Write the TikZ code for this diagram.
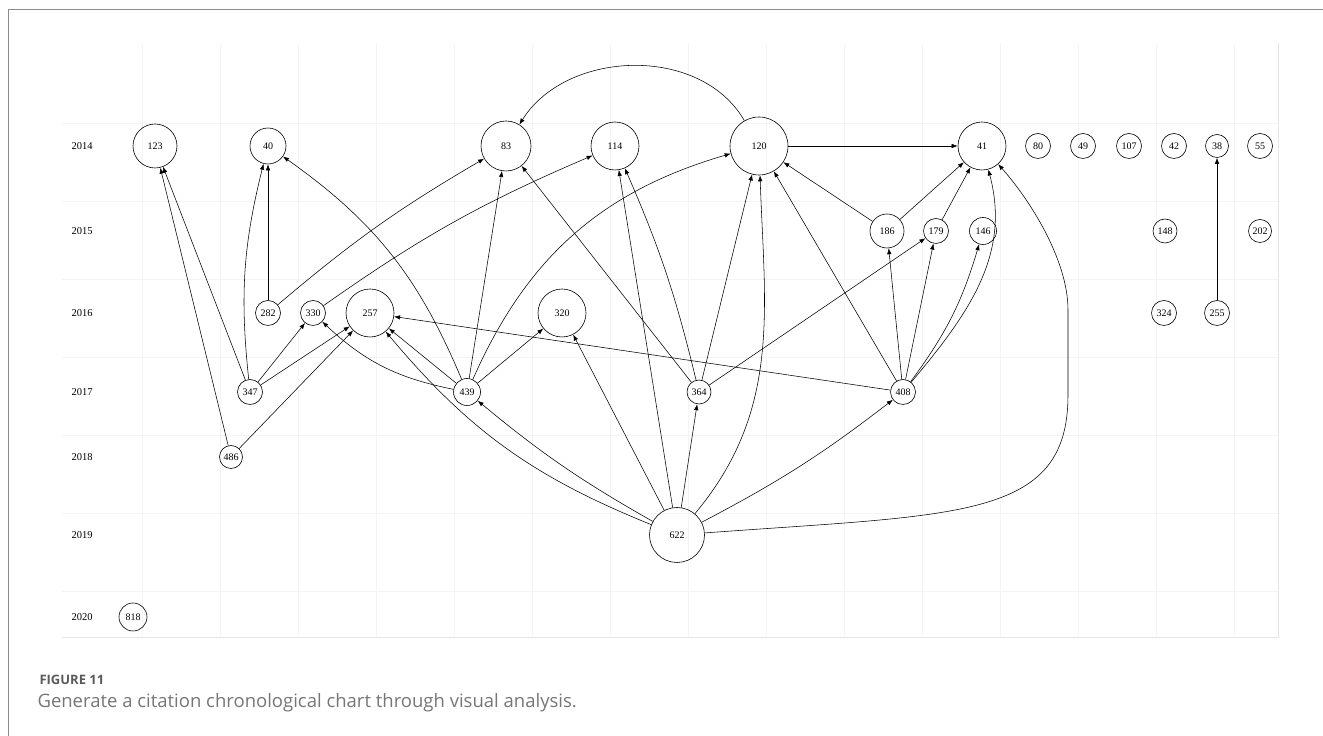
\documentclass[tikz,border=0pt]{standalone}
\usepackage{fontspec}
\setmainfont{Liberation Serif}
\newfontfamily\captfont{Open Sans}
\usepackage{xcolor}
\usepackage{tikz}
\usetikzlibrary{arrows.meta}
\definecolor{gridgray}{HTML}{F4F4F4}
\definecolor{edgegray}{HTML}{E6E6E6}
\definecolor{framegray}{HTML}{8C8C8C}
\definecolor{figgray}{HTML}{5A5A5A}
\definecolor{captgray}{HTML}{767676}

\tikzset{
  paper/.style={circle, draw, line width=0.6pt, inner sep=0pt,
    minimum size=#1, font=\fontsize{10}{11}\selectfont},
  paper/.default=25pt,
  cite/.style={-{Latex[length=6pt,width=4.5pt]}, line width=0.55pt},
  yearlbl/.style={font=\fontsize{10.5}{12}\selectfont},
  gridln/.style={gridgray, line width=0.8pt},
}

\begin{document}
\begin{tikzpicture}[x=1pt,y=1pt]
  \useasboundingbox (0,0) rectangle (1323,736);
  % frame and grid
  \draw[framegray, line width=1pt] (8,0) -- (8,726) -- (1323,726);
  \foreach \gx in {142,220,...,1234} \draw[gridln] (\gx,99) -- (\gx,693);
  \foreach \gy in {145,223,...,613} \draw[gridln] (62,\gy) -- (1278,\gy);
  \draw[edgegray, line width=0.8pt] (62,99) -- (1278,99) -- (1278,693);
  % years
  \node[yearlbl] (y2014) at (82,590) {2014};
  \node[yearlbl] (y2015) at (82,505) {2015};
  \node[yearlbl] (y2016) at (82,423) {2016};
  \node[yearlbl] (y2017) at (82,344) {2017};
  \node[yearlbl] (y2018) at (82,279) {2018};
  \node[yearlbl] (y2019) at (82,201) {2019};
  \node[yearlbl] (y2020) at (82,119) {2020};
  % 2014
  \node[paper=44pt] (p123) at (155,590) {123};
  \node[paper=36pt] (p40) at (268,590) {40};
  \node[paper=50pt] (p83) at (506,590) {83};
  \node[paper=48pt] (p114) at (615,590) {114};
  \node[paper=58pt] (p120) at (759,590) {120};
  \node[paper=48pt] (p41) at (982,590) {41};
  \node[paper] (p80) at (1038,590) {80};
  \node[paper] (p49) at (1083,590) {49};
  \node[paper] (p107) at (1129,590) {107};
  \node[paper] (p42) at (1174,590) {42};
  \node[paper=23pt] (p38) at (1217,590) {38};
  \node[paper] (p55) at (1260,590) {55};
  % 2015
  \node[paper=34pt] (p186) at (887,505) {186};
  \node[paper] (p179) at (936,505) {179};
  \node[paper=27pt] (p146) at (983,505) {146};
  \node[paper=24pt] (p148) at (1165,505) {148};
  \node[paper=23pt] (p202) at (1260,505) {202};
  % 2016
  \node[paper=25pt] (p282) at (268,423) {282};
  \node[paper] (p330) at (313,423) {330};
  \node[paper=48pt] (p257) at (370,423) {257};
  \node[paper=48pt] (p320) at (562,423) {320};
  \node[paper] (p324) at (1164,423) {324};
  \node[paper] (p255) at (1217,423) {255};
  % 2017
  \node[paper] (p347) at (250,344) {347};
  \node[paper=27pt] (p439) at (467,344) {439};
  \node[paper=24pt] (p364) at (699,344) {364};
  \node[paper] (p408) at (903,344) {408};
  % 2018 - 2020
  \node[paper=23pt] (p486) at (231,279) {486};
  \node[paper=55pt] (p622) at (677,201) {622};
  \node[paper=28pt] (p818) at (133,119) {818};

  % citations into 2014
  \draw[cite] (p486) -- (p123);
  \draw[cite] (p347) -- (p123);
  \draw[cite] (p347) to[bend left=10] (p40);
  \draw[cite] (p282) -- (p40);
  \draw[cite] (p439) to[bend right=16] (p40);
  \draw[cite] (p282) to[bend left=5] (p83);
  \draw[cite] (p439) -- (p83);
  \draw[cite] (p364) -- (p83);
  \draw[cite] (p120) to[out=120,in=58] (p83);
  \draw[cite] (p330) to[bend left=6] (p114);
  \draw[cite] (p622) -- (p114);
  \draw[cite] (p364) to[bend right=5] (p114);
  \draw[cite] (p439) to[bend left=25] (p120);
  \draw[cite] (p364) -- (p120);
  \draw[cite] (p622) to[out=50,in=-88] (p120);
  \draw[cite] (p408) -- (p120);
  \draw[cite] (p186) -- (p120);
  \draw[cite] (p120) -- (p41);
  \draw[cite] (p186) -- (p41);
  \draw[cite] (p179) -- (p41);
  \draw[cite] (p408) to[out=50,in=-75] (p41);
  \draw[cite] (p622) .. controls (960,222) and (1068,216) .. (1068,341)
    -- (1068,426) .. controls (1068,476) and (1030,536) .. (p41);
  \draw[cite] (p255) -- (p38);
  % citations into 2015
  \draw[cite] (p408) -- (p186);
  \draw[cite] (p408) -- (p179);
  \draw[cite] (p364) -- (p179);
  \draw[cite] (p408) to[bend right=10] (p146);
  % citations into 2016
  \draw[cite] (p347) -- (p330);
  \draw[cite] (p439) to[bend left=16] (p330);
  \draw[cite] (p347) -- (p257);
  \draw[cite] (p486) -- (p257);
  \draw[cite] (p439) -- (p257);
  \draw[cite] (p622) to[bend left=14] (p257);
  \draw[cite] (p408) -- (p257);
  \draw[cite] (p439) -- (p320);
  \draw[cite] (p622) -- (p320);
  % citations into 2017
  \draw[cite] (p622) to[bend left=5] (p439);
  \draw[cite] (p622) -- (p364);
  \draw[cite] (p622) to[bend right=5] (p408);

  % caption
  \node[anchor=base west, text=figgray,
    font=\captfont\bfseries\fontsize{13}{15}\selectfont] (fignum) at (36,51) {FIGURE 11};
  \node[anchor=base west, text=captgray,
    font=\captfont\fontsize{18.5}{21}\selectfont] (figcap) at (34,28)
    {Generate a citation chronological chart through visual analysis.};
\end{tikzpicture}
\end{document}
